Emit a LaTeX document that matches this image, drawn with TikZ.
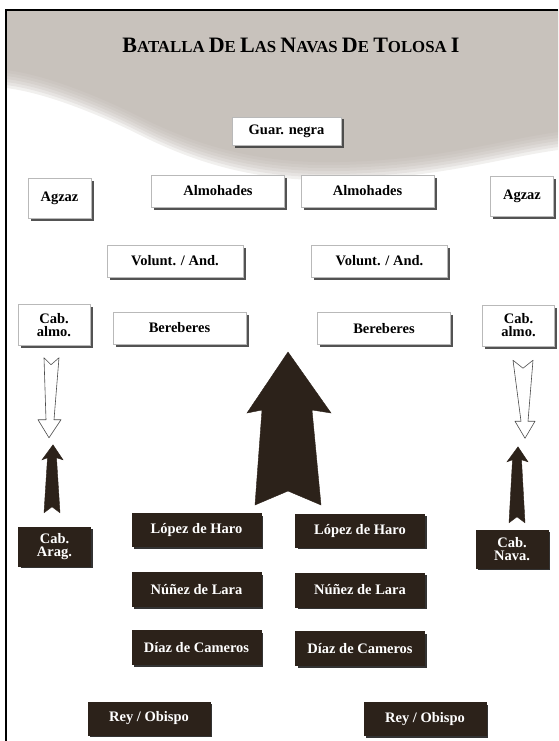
\documentclass[tikz,border=0pt]{standalone}
\usepackage{fontspec}
\setmainfont{Liberation Serif}
\usepackage{tikz}
\usetikzlibrary{shadows,calc,positioning}
\definecolor{banner}{RGB}{186,178,171}
\definecolor{darkbrown}{RGB}{44,34,26}
\newcommand{\sct}[2]{{\fontsize{22}{22}\selectfont #1}#2}

\begin{document}
\begin{tikzpicture}[x=1pt, y=-1pt,
    box/.style={rectangle, align=center, inner sep=2pt, font=\fontsize{14.5}{13}\selectfont\bfseries},
    whitebox/.style={box, draw=gray!55, line width=0.5pt, fill=white, text=black,
      drop shadow={shadow xshift=2.5pt, shadow yshift=-2.5pt, fill=black!75, opacity=0.9}},
    darkbox/.style={box, draw=darkbrown, fill=darkbrown, text=white,
      drop shadow={shadow xshift=2pt, shadow yshift=-2pt, fill=black, opacity=0.8}},
    longbox/.style={minimum width=133pt, minimum height=32pt},
    smallbox/.style={minimum width=72pt, minimum height=41pt},
    hollowarrow/.style={draw=black!70, line width=0.6pt, fill=white, line join=round},
    blackarrow/.style={draw=darkbrown, fill=darkbrown, line join=miter}]
  \useasboundingbox (0,0) rectangle (558,741);

  % grey banner behind the title
  \begin{scope}
    \clip (6,11) rectangle (558,741);
    \foreach \k in {0,...,6}
      \fill[banner, fill opacity=0.2, yshift=\k*3pt]
        (6,0) -- (558,0) -- (558,150) .. controls (500,158) and (440,178) .. (340,180)
        .. controls (260,182) and (200,165) .. (140,135)
        .. controls (90,110) and (40,92) .. (6,88) -- cycle;
  \end{scope}
  \draw[line width=2pt] (6,741) -- (6,10) -- (558,10);

  \node[anchor=base, font=\fontsize{16.8}{17}\selectfont\bfseries] (title) at (291,53)
    {\sct{B}{ATALLA} \sct{D}{E} \sct{L}{AS} \sct{N}{AVAS} \sct{D}{E} \sct{T}{OLOSA} \sct{I}{}};

  % almohad army
  \node[whitebox, minimum width=109pt, minimum height=28pt] (guardia) at (286.5,131) {Guar. negra};
  \node[whitebox, longbox] (almohL) at (218,191) {Almohades};
  \node[whitebox, longbox] (almohR) at (367.5,191) {Almohades};
  \node[whitebox, minimum width=63pt, minimum height=40pt] (agzazL) at (59.5,198) {Agzaz};
  \node[whitebox, minimum width=63pt, minimum height=40pt] (agzazR) at (522,196) {Agzaz};
  \node[whitebox, longbox, minimum width=136pt] (voluntL) at (175,261) {Volunt. / And.};
  \node[whitebox, longbox, minimum width=136pt] (voluntR) at (379.5,261) {Volunt. / And.};
  \node[whitebox, smallbox] (almoL) at (54,325) {Cab.\\ almo.};
  \node[whitebox, longbox] (berebL) at (179.5,328) {Bereberes};
  \node[whitebox, longbox] (berebR) at (384,328.5) {Bereberes};
  \node[whitebox, smallbox] (almoR) at (518.5,325.5) {Cab.\\ almo.};

  % christian army
  \node[darkbox, smallbox, minimum height=39pt] (arag) at (54.5,546.5) {Cab.\\ Arag.};
  \node[darkbox, smallbox, minimum height=38pt] (nava) at (512,549) {Cab.\\ Nava.};
  \node[darkbox, minimum width=129pt, minimum height=33pt] (lopezL) at (196.5,530) {López de Haro};
  \node[darkbox, minimum width=129pt, minimum height=33pt] (lopezR) at (360,530.5) {López de Haro};
  \node[darkbox, minimum width=129pt, minimum height=34pt] (nunezL) at (196.5,589.5) {Núñez de Lara};
  \node[darkbox, minimum width=129pt, minimum height=34pt] (nunezR) at (360,590) {Núñez de Lara};
  \node[darkbox, minimum width=129pt, minimum height=34pt] (diazL) at (196.5,647.5) {Díaz de Cameros};
  \node[darkbox, minimum width=129pt, minimum height=34pt] (diazR) at (360,648.5) {Díaz de Cameros};
  \node[darkbox, minimum width=122pt, minimum height=33pt] (reyL) at (149,718.5) {Rey / Obispo};
  \node[darkbox, minimum width=122pt, minimum height=33pt] (reyR) at (425,719) {Rey / Obispo};

  % arrows
  \draw[hollowarrow, shift={($(almoL.south)+(-3,12)$)}]
    (-7,0) -- (0,7) -- (8,0) -- (3,62) -- (10,62) -- (-2,80) -- (-13,62) -- (-5,62) -- cycle;
  \draw[hollowarrow, shift={($(almoR.south)+(4.5,14)$)}]
    (-10,0) -- (0,8) -- (10,0) -- (5,61) -- (12,61) -- (2,78) -- (-8,61) -- (-2,61) -- cycle;
  \draw[blackarrow, shift={($(arag.north)+(-2.5,-14)$)}]
    (-8,0) -- (-4.5,-55) -- (-10,-53) -- (1,-68) -- (11,-53) -- (4.5,-55) -- (8,0) -- (0,-6) -- cycle;
  \draw[blackarrow, shift={($(nava.north)+(5,-7)$)}]
    (-8,0) -- (-4.5,-63) -- (-10,-61) -- (1,-76) -- (11,-61) -- (4.5,-63) -- (8,0) -- (0,-6) -- cycle;
  \coordinate (bigbase) at (288,505);
  \draw[blackarrow, shift={(bigbase)}]
    (-33,0) -- (-26,-95) -- (-41,-92) -- (0,-153) -- (43,-92) -- (24,-95) -- (33,0) -- (0,-14) -- cycle;
\end{tikzpicture}
\end{document}
